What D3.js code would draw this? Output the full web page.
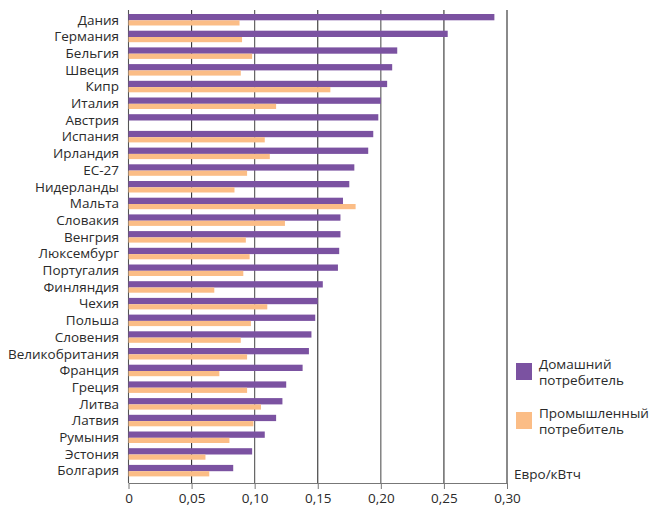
<!DOCTYPE html>
<html>
<head>
<meta charset="utf-8">
<script src="https://cdn.jsdelivr.net/npm/d3@7"></script>
<style>
  html, body { margin: 0; padding: 0; background: #fff; }
  svg { display: block; font-family: "Open Sans", sans-serif; }
</style>
</head>
<body>
<svg id="chart" width="649" height="507"></svg>
<script>
const categories = ["Дания","Германия","Бельгия","Швеция","Кипр","Италия","Австрия","Испания","Ирландия","ЕС-27","Нидерланды","Мальта","Словакия","Венгрия","Люксембург","Португалия","Финляндия","Чехия","Польша","Словения","Великобритания","Франция","Греция","Литва","Латвия","Румыния","Эстония","Болгария"];
const domestic = [0.290,0.253,0.213,0.209,0.205,0.200,0.198,0.194,0.190,0.179,0.175,0.170,0.168,0.168,0.167,0.166,0.154,0.150,0.148,0.145,0.143,0.138,0.125,0.122,0.117,0.108,0.098,0.083];
const industrial = [0.088,0.090,0.098,0.089,0.160,0.117,0,0.108,0.112,0.094,0.084,0.180,0.124,0.093,0.096,0.091,0.068,0.110,0.097,0.089,0.094,0.072,0.094,0.105,0.099,0.080,0.061,0.064];
const xTicks = [0,0.05,0.10,0.15,0.20,0.25,0.30];
const xTickLabels = ["0","0,05","0,10","0,15","0,20","0,25","0,30"];
const seriesNames = [["Домашний","потребитель"],["Промышленный","потребитель"]];
const unitLabel = "Евро/кВтч";
const colors = ["#7b52a1","#fbbd86"];

const svg = d3.select("#chart");
const x = d3.scaleLinear().domain([0,0.30]).range([128.5,507]);
const y = d3.scaleBand().domain(categories).range([11.5, 11.5 + 28*16.7]).padding(0);

// gridlines
const gridTop = 10, gridBottom = 483;
svg.append("g").selectAll("line").data(xTicks).join("line")
  .attr("x1", d => x(d)).attr("x2", d => x(d))
  .attr("y1", gridTop).attr("y2", gridBottom)
  .attr("stroke", (d,i) => i===6 ? "#8a8a8a" : (i%2===1 ? "#333" : "#555"))
  .attr("stroke-width", (d,i) => i===6 ? 2 : 1.1);

// bars
const g = svg.append("g");
g.selectAll("rect.dom").data(categories).join("rect").attr("class","dom")
  .attr("x", x(0)).attr("y", d => y(d) + 2.5)
  .attr("width", (d,i) => x(domestic[i]) - x(0)).attr("height", 6.3)
  .attr("fill", colors[0]);
g.selectAll("rect.ind").data(categories).join("rect").attr("class","ind")
  .attr("x", x(0)).attr("y", d => y(d) + 8.8)
  .attr("width", (d,i) => x(industrial[i]) - x(0)).attr("height", 5.2)
  .attr("fill", colors[1]);

// category labels
svg.append("g").selectAll("text").data(categories).join("text")
  .attr("x", 119).attr("y", d => y(d) + 8.3)
  .attr("dy", "0.35em").attr("text-anchor","end")
  .attr("font-size", 13.5).attr("fill", "#2a2a2a")
  .text(d => d);

// x axis
const axis = d3.axisBottom(x).tickValues(xTicks).tickFormat((d,i) => xTickLabels[i]).tickSize(6).tickSizeOuter(0);
const ax = svg.append("g").attr("transform", `translate(0,${gridBottom})`).call(axis);
ax.select(".domain").attr("stroke","#777").attr("stroke-width",1.2);
ax.selectAll(".tick line").attr("stroke","#777");
ax.selectAll(".tick text").attr("font-size",13.5).attr("fill","#2a2a2a")
  .attr("font-family","'Open Sans', sans-serif").attr("y", 10);

// legend
const legendY = [363, 412];
seriesNames.forEach((lines, i) => {
  svg.append("rect").attr("x", 516).attr("y", legendY[i]).attr("width", 16).attr("height", 17).attr("fill", colors[i]);
  lines.forEach((t, j) => {
    svg.append("text").attr("x", 539).attr("y", legendY[i] + 1 + j*16.5)
      .attr("dy","0.35em").attr("font-size",13.5).attr("fill","#2a2a2a").text(t);
  });
});
svg.append("text").attr("x", 514).attr("y", 474).attr("dy","0.35em")
  .attr("font-size",13.5).attr("fill","#2a2a2a").text(unitLabel);
</script>
</body>
</html>
